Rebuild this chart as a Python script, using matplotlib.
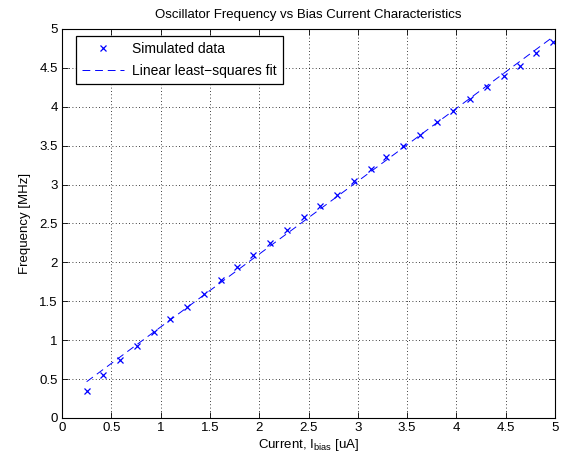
import numpy as np
import matplotlib
matplotlib.use('Agg')
import matplotlib.pyplot as plt

plt.rcParams['font.family'] = ['Liberation Sans', 'DejaVu Sans']
plt.rcParams['mathtext.default'] = 'regular'

# bias current (uA) and simulated oscillator frequency (MHz)
current = [0.25, 0.42, 0.59, 0.76, 0.93, 1.10, 1.27, 1.44, 1.61, 1.77,
           1.94, 2.11, 2.28, 2.45, 2.62, 2.79, 2.96, 3.13, 3.29, 3.46,
           3.63, 3.80, 3.97, 4.14, 4.31, 4.48, 4.64, 4.81, 4.98]
freq = [0.35, 0.55, 0.745, 0.92, 1.10, 1.27, 1.43, 1.60, 1.77, 1.94,
        2.09, 2.25, 2.42, 2.58, 2.72, 2.87, 3.04, 3.20, 3.35, 3.50,
        3.64, 3.80, 3.95, 4.10, 4.25, 4.40, 4.53, 4.69, 4.83]

xticks = [0, 0.5, 1, 1.5, 2, 2.5, 3, 3.5, 4, 4.5, 5]
yticks = [0, 0.5, 1, 1.5, 2, 2.5, 3, 3.5, 4, 4.5, 5]

x = np.array(current)
y = np.array(freq)
slope, intercept = np.polyfit(x, y, 1)

fs = 9.5
fig = plt.figure(figsize=(5.67, 4.58), dpi=100)
ax = fig.add_axes([62 / 567, 40 / 458, 493 / 567, 389 / 458])

ax.plot(x, y, 'x', color='blue', markersize=5, mew=0.9, label='Simulated data')
ax.plot(x, slope * x + intercept, '--', color='blue', lw=0.7, dashes=(8, 5),
        label='Linear least\u2212squares fit')

ax.set_xlim(0, 5)
ax.set_ylim(0, 5)
ax.set_xticks(xticks)
ax.set_yticks(yticks)
ax.set_xticklabels([f'{t:g}' for t in xticks])
ax.set_yticklabels([f'{t:g}' for t in yticks])
ax.tick_params(direction='in', top=True, right=True, labelsize=fs, length=4, width=0.6, pad=3)
ax.grid(True, linestyle=(0, (1, 3)), color='black', lw=0.6)
for s in ax.spines.values():
    s.set_linewidth(0.8)

ax.set_xlabel('Current, I$_{bias}$ [uA]', fontsize=fs, labelpad=2)
ax.set_ylabel('Frequency [MHz]', fontsize=fs, labelpad=6)
ax.set_title('Oscillator Frequency vs Bias Current Characteristics', fontsize=fs, pad=8)

leg = ax.legend(loc='upper left', fontsize=fs + 0.5, fancybox=False, framealpha=1,
                edgecolor='black', handlelength=3.0, handletextpad=0.6,
                borderpad=0.45, labelspacing=0.55, borderaxespad=0,
                bbox_to_anchor=(14 / 493, 1 - 7 / 389))
leg.get_frame().set_linewidth(0.9)

fig.savefig('out.png', dpi=100)
